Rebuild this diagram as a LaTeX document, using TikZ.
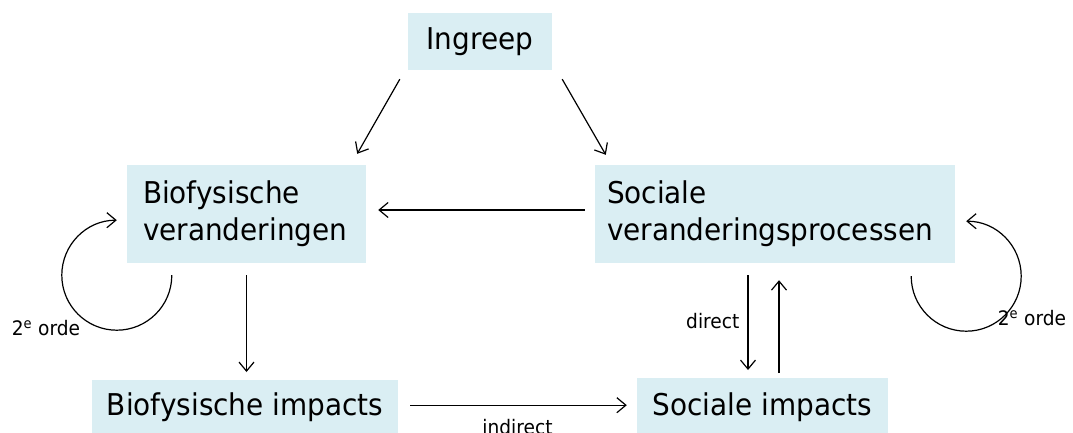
\documentclass[tikz,border=0pt]{standalone}
\usepackage{fontspec}
\setmainfont[FakeStretch=0.93]{DejaVu Sans}
\usetikzlibrary{arrows.meta}
\definecolor{blokkleur}{HTML}{DAEEF3}

\begin{document}
\begin{tikzpicture}[x=1bp,y=1bp,
  blok/.style={fill=blokkleur, inner sep=0pt, font=\fontsize{30bp}{37bp}\selectfont},
  klein/.style={font=\fontsize{20bp}{24bp}\selectfont, inner sep=2bp},
  pijl/.style={line width=1.2bp, -{Straight Barb[length=9bp,width=15bp]}}]
\useasboundingbox (0,0) rectangle (1073,432);
\clip (0,0) rectangle (1073,432);

\node[blok, minimum width=144bp, minimum height=57bp] (ingreep) at (480,390.5) {Ingreep};
\node[blok, minimum width=239bp, minimum height=98bp, text width=207bp, align=left] (bioverand) at (246.5,218) {Biofysische\\veranderingen};
\node[blok, minimum width=360bp, minimum height=98bp, text width=336bp, align=left] (socverand) at (775,218) {Sociale\\veranderingsprocessen};
\node[blok, anchor=north, minimum width=306bp, minimum height=60bp, text height=23bp, text depth=13bp] (bioimpact) at (245,52) {Biofysische impacts};
\node[blok, anchor=north, minimum width=251bp, minimum height=60bp, text height=23bp, text depth=9bp] (socimpact) at (762.5,54) {Sociale impacts};

 \draw[pijl] ([shift={(-8,-9)}]ingreep.south west) -- ([shift={(-9,11)}]bioverand.north east);
 \draw[pijl] ([shift={(10,-9)}]ingreep.south east) -- ([shift={(11,10)}]socverand.north west);
 \draw[pijl, shorten <=10bp, shorten >=12bp] ([yshift=4bp]socverand.west) -- ([yshift=4bp]bioverand.east);
 \draw[pijl, shorten <=12bp, shorten >=8bp] (bioverand.south) -- (bioverand.south |- bioimpact.north);
 \draw[pijl, shorten <=12bp, shorten >=8bp] ([xshift=-27bp]socverand.south) -- ([xshift=-27bp]socverand.south |- socimpact.north) node[klein, midway, left=6bp] {direct};
 \draw[pijl, shorten <=5bp, shorten >=17bp] ([xshift=16.5bp]socimpact.north) -- ([xshift=16.5bp]socimpact.north |- socverand.south);
 \draw[pijl, shorten <=12bp, shorten >=10bp] ([yshift=5bp]bioimpact.east) -- ([yshift=5bp]bioimpact.east -| socimpact.west) node[klein, midway, below=12bp] {indirect};

% tweede-orde lussen
 \draw[pijl] ([shift={(45,-12)}]bioverand.south west) arc[start angle=0, end angle=-270, radius=55bp];
 \draw[pijl] ([shift={(-44,-13)}]socverand.south east) arc[start angle=180, end angle=450, radius=55bp];
\node[klein] (ordebio) at (46,104) {2\textsuperscript{e} orde};
\node[klein] (ordesoc) at (1032,114) {2\textsuperscript{e} orde};
\end{tikzpicture}
\end{document}
